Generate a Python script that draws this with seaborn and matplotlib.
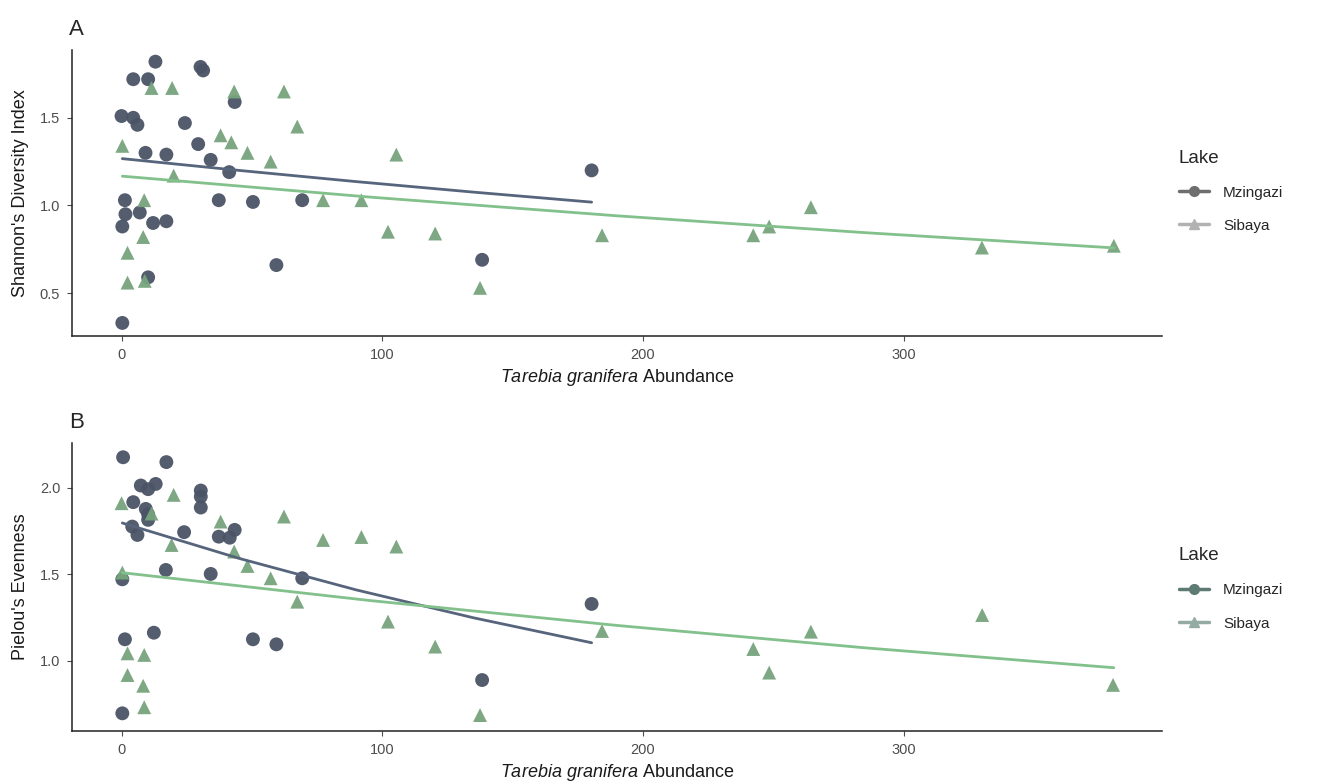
import matplotlib
matplotlib.use("Agg")
import matplotlib.pyplot as plt
from matplotlib.lines import Line2D
import pandas as pd
import seaborn as sns

# values
lakes = ["Mzingazi", "Sibaya"]

# panel A - Shannon's diversity
shan_mz_x = [13, 4.5, 10.2, 30.3, 31.3, 43.4, 0, 4.5, 6.1, 24.3, 29.4, 9.2, 17.2, 34.2, 41.3,
             1.3, 1.5, 0.3, 7, 12.1, 17.2, 37.3, 50.4, 69.3, 59.4, 10.2, 0.3, 180.3, 138.3]
shan_mz_y = [1.82, 1.72, 1.72, 1.79, 1.77, 1.59, 1.51, 1.50, 1.46, 1.47, 1.35, 1.30, 1.29, 1.26, 1.19,
             1.03, 0.95, 0.88, 0.96, 0.90, 0.91, 1.03, 1.02, 1.03, 0.66, 0.59, 0.33, 1.20, 0.69]
shan_sb_x = [11.5, 19.4, 43.2, 62.3, 67.4, 0.3, 38, 42.1, 48.3, 57.2, 20, 8.7, 8.3, 2.3, 2.3, 8.9,
             77.3, 92, 105.4, 102.2, 120.3, 137.5, 184.3, 242.3, 248.4, 264.4, 330, 380.6]
shan_sb_y = [1.67, 1.67, 1.65, 1.65, 1.45, 1.34, 1.40, 1.36, 1.30, 1.25, 1.17, 1.03, 0.82, 0.73, 0.56, 0.57,
             1.03, 1.03, 1.29, 0.85, 0.84, 0.53, 0.83, 0.83, 0.88, 0.99, 0.76, 0.77]

# panel B - Pielou's evenness
piel_mz_x = [0.6, 17.2, 7.4, 10.2, 13.1, 4.5, 9.3, 10.2, 10.2, 30.4, 30.4, 30.4, 4.1, 6.1, 24,
             37.3, 41.5, 43.4, 0.3, 17, 34.2, 69.3, 1.3, 12.4, 50.4, 59.4, 0.3, 180.3, 138.3]
piel_mz_y = [2.175, 2.147, 2.012, 1.991, 2.021, 1.916, 1.877, 1.846, 1.814, 1.983, 1.948, 1.885, 1.775, 1.727, 1.743,
             1.717, 1.711, 1.756, 1.471, 1.525, 1.502, 1.477, 1.125, 1.163, 1.125, 1.096, 0.698, 1.329, 0.890]
piel_sb_x = [0, 20, 38, 62.3, 19.2, 43.2, 48.3, 57.2, 67.4, 0.3, 2.3, 8.7, 2.3, 8.3, 8.7, 11.5,
             77.3, 92, 105.4, 102.2, 120.3, 137.5, 184.3, 242.3, 248.4, 264.4, 330.1, 380.3]
piel_sb_y = [1.91, 1.958, 1.804, 1.833, 1.669, 1.631, 1.548, 1.477, 1.342, 1.51, 1.044, 1.035, 0.919, 0.857, 0.733, 1.85,
             1.698, 1.715, 1.66, 1.227, 1.083, 0.688, 1.173, 1.069, 0.933, 1.169, 1.265, 0.862]

# fitted trend lines, read at a few points along each curve
fit_mz_x = [0.3, 45, 90, 135, 180.3]
fit_sb_x = [0.3, 95, 190, 285, 380.6]
shan_fit_mz = [1.267, 1.200, 1.136, 1.076, 1.019]
shan_fit_sb = [1.167, 1.048, 0.941, 0.845, 0.758]
piel_fit_mz = [1.796, 1.592, 1.410, 1.249, 1.105]
piel_fit_sb = [1.509, 1.349, 1.205, 1.076, 0.961]

x_ticks = [0, 100, 200, 300]


def make_df(mz_x, mz_y, sb_x, sb_y):
    return pd.DataFrame({
        "Abundance": mz_x + sb_x,
        "value": mz_y + sb_y,
        "Lake": ["Mzingazi"] * len(mz_x) + ["Sibaya"] * len(sb_x),
    })


def make_fit(mz_y, sb_y):
    return pd.DataFrame({
        "Abundance": fit_mz_x + fit_sb_x,
        "value": mz_y + sb_y,
        "Lake": ["Mzingazi"] * len(fit_mz_x) + ["Sibaya"] * len(fit_sb_x),
    })


shan_df = make_df(shan_mz_x, shan_mz_y, shan_sb_x, shan_sb_y)
piel_df = make_df(piel_mz_x, piel_mz_y, piel_sb_x, piel_sb_y)
shan_fit = make_fit(shan_fit_mz, shan_fit_sb)
piel_fit = make_fit(piel_fit_mz, piel_fit_sb)

sns.set_theme(style="white")
plt.rcParams["font.family"] = ["Liberation Sans", "DejaVu Sans"]
plt.rcParams["mathtext.fontset"] = "custom"
plt.rcParams["mathtext.it"] = "Liberation Sans:italic"
plt.rcParams["mathtext.rm"] = "Liberation Sans"

point_pal = {"Mzingazi": "#4b5466", "Sibaya": "#76a47c"}
line_pal = {"Mzingazi": "#56657c", "Sibaya": "#82c08c"}
markers = {"Mzingazi": "o", "Sibaya": "^"}

fig = plt.figure(figsize=(13.21, 7.83), dpi=100)
ax_a = fig.add_axes([0.0545, 0.571, 0.825, 0.365])
ax_b = fig.add_axes([0.0545, 0.0664, 0.825, 0.368])

panels = [
    (ax_a, shan_df, shan_fit, "Shannon's Diversity Index", (0.256, 1.886), [0.5, 1.0, 1.5], "A",
     ["#6e6e6e", "#b2b2b2"], 0.70),
    (ax_b, piel_df, piel_fit, "Pielou's Evenness", (0.596, 2.258), [1.0, 1.5, 2.0], "B",
     ["#5d7a73", "#94aba3"], 0.685),
]

for ax, df, fit, ylab, ylim, yticks, tag, key_cols, leg_y in panels:
    sns.scatterplot(data=df, x="Abundance", y="value", hue="Lake", style="Lake",
                    palette=point_pal, markers=markers, s=100, linewidth=0,
                    alpha=0.95, legend=False, ax=ax)
    sns.lineplot(data=fit, x="Abundance", y="value", hue="Lake", palette=line_pal,
                 linewidth=2.0, legend=False, ax=ax)
    ax.set_xlim(-19, 399)
    ax.set_ylim(*ylim)
    ax.set_xticks(x_ticks)
    ax.set_yticks(yticks)
    ax.set_yticklabels([f"{v:.1f}" for v in yticks])
    ax.set_xlabel(r"$\it{Tarebia\ granifera}$ Abundance", fontsize=13, color="#1a1a1a", labelpad=4)
    ax.set_ylabel(ylab, fontsize=13, color="#1a1a1a", labelpad=8)
    ax.tick_params(axis="both", colors="#4d4d4d", labelsize=10.5, length=3.5, width=0.8,
                   direction="out", bottom=True, left=True, pad=5)
    for side in ["top", "right"]:
        ax.spines[side].set_visible(False)
    for side in ["left", "bottom"]:
        ax.spines[side].set_color("#222222")
        ax.spines[side].set_linewidth(1.1)
    ax.text(-0.003, 1.035, tag, transform=ax.transAxes, fontsize=16, ha="left", va="bottom")

    handles = [
        Line2D([0], [0], color=key_cols[0], lw=2.5, marker="o", markersize=7),
        Line2D([0], [0], color=key_cols[1], lw=2.5, marker="^", markersize=7),
    ]
    leg = ax.legend(handles, lakes, title="Lake", loc="upper left",
                    bbox_to_anchor=(1.003, leg_y), frameon=False, fontsize=11,
                    title_fontsize=13.5, handlelength=2.0, labelspacing=1.25,
                    handletextpad=0.9)
    leg._legend_box.align = "left"

fig.savefig("out.png", dpi=100)
